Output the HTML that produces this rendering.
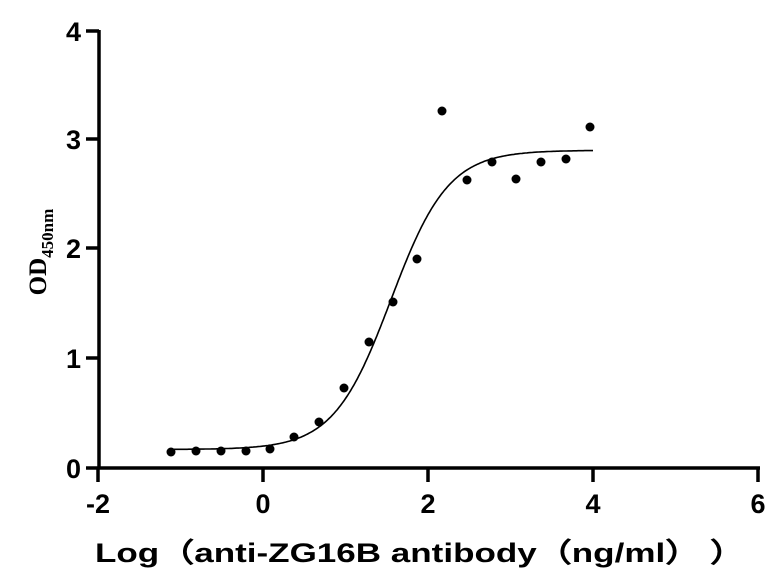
<!DOCTYPE html>
<html><head><meta charset="utf-8"><style>
body{margin:0;background:#fff}
svg{display:block}
text{font-family:"Liberation Sans",Arial,sans-serif;font-weight:bold;fill:#000}
</style></head><body>
<svg id="s" width="779" height="581" viewBox="0 0 779 581">
<g stroke="#000" stroke-width="3.5" fill="none">
<line x1="99" y1="30" x2="99" y2="469"/>
<line x1="86" y1="468" x2="760" y2="468"/>
<line x1="86" y1="31" x2="99" y2="31"/>
<line x1="86" y1="139" x2="99" y2="139"/>
<line x1="86" y1="248" x2="99" y2="248"/>
<line x1="86" y1="358" x2="99" y2="358"/>
<line x1="98" y1="468" x2="98" y2="482"/>
<line x1="263" y1="468" x2="263" y2="482"/>
<line x1="428" y1="468" x2="428" y2="482"/>
<line x1="593" y1="468" x2="593" y2="482"/>
<line x1="758" y1="468" x2="758" y2="482"/>
</g>
<g font-size="27" text-anchor="end">
<text x="81" y="41">4</text><text x="81" y="149">3</text><text x="81" y="258">2</text><text x="81" y="368">1</text><text x="81" y="478">0</text>
</g>
<g font-size="27" text-anchor="middle">
<text x="98" y="513">-2</text><text x="263" y="513">0</text><text x="428" y="513">2</text><text x="593" y="513">4</text><text x="758" y="513">6</text>
</g>
<text x="95" y="562" font-size="27" textLength="650" lengthAdjust="spacingAndGlyphs">Log（anti-ZG16B antibody（ng/ml）  ）</text>
<text transform="translate(46,252) rotate(-90)" text-anchor="middle" font-size="25" style="font-family:'Liberation Serif',serif">OD<tspan font-size="17" dy="7">450nm</tspan></text>
<path id="c" stroke="#000" stroke-width="1.6" fill="none"/>
<g fill="#000" id="pts"></g>
</svg>
<script>
var X=function(v){return 263+v*82.5},Y=function(v){return 468-v*108.8};
var d="";for(var x=-1.1;x<=4.001;x+=0.02){var y=0.17+(2.92-0.17)/(1+Math.pow(10,(1.55-x)*1.25));d+=(d?"L":"M")+X(x).toFixed(1)+" "+Y(y).toFixed(1);}
document.getElementById("c").setAttribute("d",d);
var p=[[171,452],[196,451],[221,451],[246,451],[270,449],[294,437],[319,422],[344,388],[369,342],[393,302],[417,259],[442,111],[467,180],[492,162],[516,179],[541,162],[566,159],[590,127]];
var g=document.getElementById("pts"),h="";p.forEach(function(q){h+='<circle cx="'+q[0]+'" cy="'+q[1]+'" r="4.5"/>'});g.innerHTML=h;
</script>
</body></html>
